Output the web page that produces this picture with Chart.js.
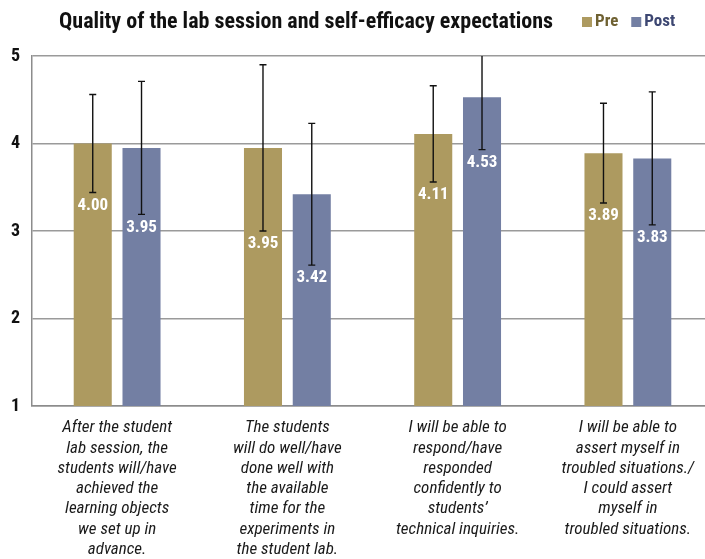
<!DOCTYPE html>
<html>
<head>
<meta charset="utf-8">
<script src="https://cdn.jsdelivr.net/npm/chart.js@4/dist/chart.umd.min.js"></script>
<style>
  html, body { margin: 0; padding: 0; background: #ffffff; overflow: hidden; }
  #wrap { position: relative; width: 713px; height: 559px; }
</style>
</head>
<body>
<div id="wrap"><canvas id="c" width="713" height="559"></canvas></div>
<script>
const chartTitle = "Quality of the lab session and self-efficacy expectations";
const categories = [
  ["After the student", "lab session, the", "students will/have", "achieved the", "learning objects", "we set up in", "advance."],
  ["The students", "will do well/have", "done well with", "the available", "time for the", "experiments in", "the student lab."],
  ["I will be able to", "respond/have", "responded", "confidently to", "students\u2019", "technical inquiries."],
  ["I will be able to", "assert myself in", "troubled situations./", "I could assert", "myself in", "troubled situations."]
];
const seriesNames = ["Pre", "Post"];
const preValues = [4.00, 3.95, 4.11, 3.89];
const postValues = [3.95, 3.42, 4.53, 3.83];
const preSd = [0.56, 0.95, 0.55, 0.57];
const postSd = [0.76, 0.81, 0.60, 0.76];
const yTicks = [1, 2, 3, 4, 5];

const FONT = "'Liberation Sans Narrow', 'Roboto Condensed', Roboto, sans-serif";
const sdBySeries = [preSd, postSd];

const headerPlugin = {
  id: 'header',
  afterDraw(chart) {
    const ctx = chart.ctx;
    ctx.save();
    ctx.fillStyle = '#111111';
    ctx.font = "bold 22px " + FONT;
    ctx.textAlign = 'center';
    ctx.textBaseline = 'middle';
    ctx.fillText(chartTitle, 306, 22);
    // legend
    const legendTextColors = ['#6f6132', '#3d4772'];
    let x = 582;
    ctx.font = "bold 17px " + FONT;
    ctx.textAlign = 'left';
    chart.data.datasets.forEach((ds, i) => {
      ctx.fillStyle = ds.backgroundColor;
      ctx.fillRect(x, 17, 10, 10);
      ctx.fillStyle = legendTextColors[i];
      ctx.fillText(ds.label, x + 13, 22);
      x += 13 + ctx.measureText(ds.label).width + 13;
    });
    ctx.restore();
  }
};

const errorBarPlugin = {
  id: 'errorBars',
  afterDatasetsDraw(chart) {
    const ctx = chart.ctx;
    const yScale = chart.scales.y;
    const area = chart.chartArea;
    chart.data.datasets.forEach((ds, i) => {
      const meta = chart.getDatasetMeta(i);
      const sds = sdBySeries[i];
      meta.data.forEach((bar, j) => {
        const v = ds.data[j];
        const sd = sds[j];
        const x = bar.x;
        const yTop = yScale.getPixelForValue(v + sd);
        const yBot = yScale.getPixelForValue(v - sd);
        ctx.save();
        ctx.beginPath();
        ctx.rect(area.left, area.top, area.right - area.left, area.bottom - area.top);
        ctx.clip();
        ctx.strokeStyle = '#111111';
        ctx.lineWidth = 1.4;
        ctx.beginPath();
        ctx.moveTo(x, yTop); ctx.lineTo(x, yBot);
        ctx.moveTo(x - 3.5, yTop); ctx.lineTo(x + 3.5, yTop);
        ctx.moveTo(x - 3.5, yBot); ctx.lineTo(x + 3.5, yBot);
        ctx.stroke();
        ctx.restore();
        // value label
        ctx.save();
        ctx.fillStyle = '#ffffff';
        ctx.font = "bold 17px " + FONT;
        ctx.textAlign = 'center';
        ctx.textBaseline = 'middle';
        ctx.fillText(v.toFixed(2), x, yBot + 13);
        ctx.restore();
      });
    });
  }
};

new Chart(document.getElementById('c'), {
  type: 'bar',
  data: {
    labels: categories,
    datasets: [
      { label: seriesNames[0], data: preValues, backgroundColor: '#ad9a60', borderWidth: 0 },
      { label: seriesNames[1], data: postValues, backgroundColor: '#737fa3', borderWidth: 0 }
    ]
  },
  options: {
    responsive: false,
    animation: false,
    devicePixelRatio: 1,
    layout: { padding: { top: 56, left: 0, right: 0, bottom: 0 } },
    datasets: { bar: { categoryPercentage: 0.573, barPercentage: 0.78 } },
    plugins: {
      legend: { display: false },
      title: { display: false },
      tooltip: { enabled: false }
    },
    scales: {
      x: {
        grid: { display: false, drawTicks: false },
        border: { display: true, color: '#8c8c8c', width: 1.5 },
        ticks: {
          color: '#1a1a1a',
          font: { family: FONT, size: 17, style: 'italic', lineHeight: 1.19 },
          padding: 12,
          maxRotation: 0,
          autoSkip: false
        },
        afterFit(scale) { scale.height = 153; }
      },
      y: {
        min: 1, max: 5,
        afterBuildTicks(scale) { scale.ticks = yTicks.map(v => ({ value: v })); },
        grid: { color: '#9a9a9a', lineWidth: 1.5, drawTicks: false },
        border: { display: true, color: '#8c8c8c', width: 1.5 },
        ticks: {
          color: '#111111',
          font: { family: FONT, size: 18, weight: 'bold' },
          padding: 12
        },
        afterFit(scale) { scale.width = 32; }
      }
    }
  },
  plugins: [errorBarPlugin, headerPlugin]
});
</script>
</body>
</html>
